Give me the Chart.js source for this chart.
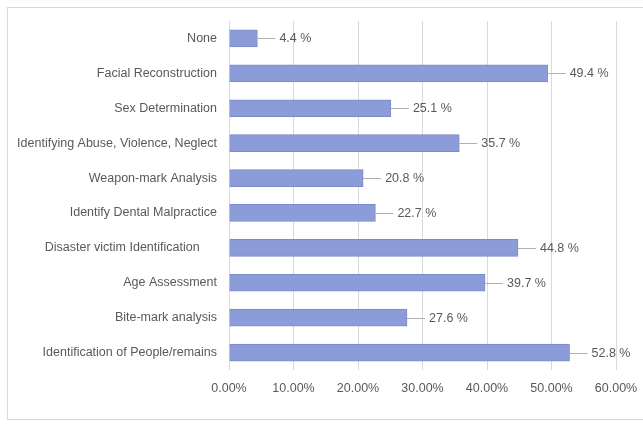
<!DOCTYPE html>
<html>
<head>
<meta charset="utf-8">
<script src="https://cdn.jsdelivr.net/npm/chart.js@4/dist/chart.umd.min.js"></script>
<style>
  body { margin: 0; background: #fff; }
  #wrap { position: relative; width: 643px; height: 425px; }
  #frame { position: absolute; left: 7px; top: 7px; width: 640px; height: 413px; border: 1px solid #d9d9d9; box-sizing: border-box; }
  canvas { position: absolute; left: 0; top: 0; }
</style>
</head>
<body>
<div id="wrap">
  <div id="frame"></div>
  <canvas id="chart" width="643" height="425"></canvas>
</div>
<script>
// categories from top to bottom
const categories = [
    'None',
    'Facial Reconstruction',
    'Sex Determination',
    'Identifying Abuse, Violence, Neglect',
    'Weapon-mark Analysis',
    'Identify Dental Malpractice',
    'Disaster victim Identification     ',
    'Age Assessment',
    'Bite-mark analysis',
    'Identification of People/remains'
];
const percents = [4.4, 49.4, 25.1, 35.7, 20.8, 22.7, 44.8, 39.7, 27.6, 52.8];
const xTicks = [0, 10, 20, 30, 40, 50, 60];

const FONT = "'Liberation Sans', Arial, sans-serif";
const TEXT = '#595959';

// label with a short leader line to the right of each bar
const leaderLabels = {
    id: 'leaderLabels',
    afterDatasetsDraw(chart) {
        const c = chart.ctx;
        const meta = chart.getDatasetMeta(0);
        c.save();
        c.font = '12.5px ' + FONT;
        c.fillStyle = TEXT;
        c.textBaseline = 'middle';
        c.strokeStyle = '#b0b0b0';
        c.lineWidth = 1;
        meta.data.forEach((bar, i) => {
            const x = bar.x;
            const y = Math.round(bar.y) + 0.5;
            c.beginPath();
            c.moveTo(x, y);
            c.lineTo(x + 18, y);
            c.stroke();
            c.fillText(percents[i].toFixed(1) + ' %', x + 22, y);
        });
        c.restore();
    }
};

new Chart(document.getElementById('chart').getContext('2d'), {
    type: 'bar',
    data: {
        labels: categories,
        datasets: [{
            data: percents,
            backgroundColor: '#8c9cd8',
            borderColor: '#7b8bca',
            borderWidth: 1,
            barThickness: 17
        }]
    },
    options: {
        indexAxis: 'y',
        responsive: false,
        animation: false,
        layout: { padding: { top: 21, right: 27, bottom: 0, left: 0 } },
        plugins: {
            legend: { display: false },
            tooltip: { enabled: false }
        },
        scales: {
            x: {
                min: 0,
                max: 60,
                afterBuildTicks: (scale) => { scale.ticks = xTicks.map(v => ({ value: v })); },
                afterFit: (scale) => {
                    scale.height = 55;
                    scale.paddingLeft = 0;
                    scale.paddingRight = 0;
                },
                grid: { color: '#d9d9d9', drawTicks: false },
                border: { display: false },
                ticks: {
                    padding: 11,
                    color: TEXT,
                    font: { family: FONT, size: 12.5 },
                    callback: (v) => v.toFixed(2) + '%'
                }
            },
            y: {
                afterFit: (scale) => { scale.width = 229; },
                grid: { display: false, drawTicks: false },
                border: { display: false },
                ticks: {
                    padding: 12,
                    color: TEXT,
                    font: { family: FONT, size: 12.5 }
                }
            }
        }
    },
    plugins: [leaderLabels]
});
</script>
</body>
</html>
